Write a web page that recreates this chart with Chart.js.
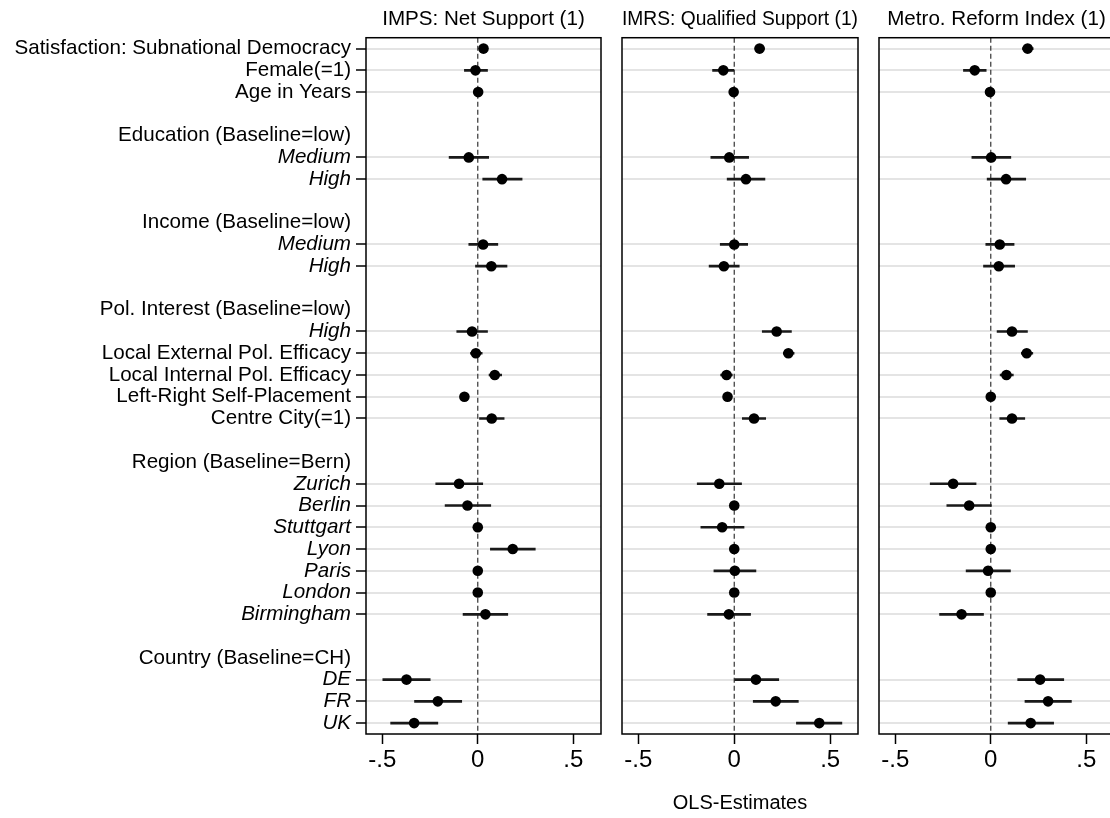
<!DOCTYPE html>
<html>
<head>
<meta charset="utf-8">
<title>OLS coefficient plot</title>
<script src="https://cdn.jsdelivr.net/npm/chart.js@4.4.1/dist/chart.umd.min.js"></script>
<style>
  html, body { margin: 0; padding: 0; background: #fff; overflow: hidden; }
  body { width: 1110px; height: 818px; position: relative; }
  canvas { position: absolute; top: 0; }
</style>
</head>
<body>
<canvas id="imps" width="610" height="818" style="left:0px"></canvas>
<canvas id="imrs" width="260" height="818" style="left:610px"></canvas>
<canvas id="metro" width="260" height="818" style="left:866px"></canvas>
<script>
// rows of the coefficient table, top to bottom ('' = spacer row)
const rowLabels = [
  'Satisfaction: Subnational Democracy', 'Female(=1)', 'Age in Years', '',
  'Education (Baseline=low)', 'Medium', 'High', '',
  'Income (Baseline=low)', 'Medium', 'High', '',
  'Pol. Interest (Baseline=low)', 'High', 'Local External Pol. Efficacy',
  'Local Internal Pol. Efficacy', 'Left-Right Self-Placement', 'Centre City(=1)', '',
  'Region (Baseline=Bern)', 'Zurich', 'Berlin', 'Stuttgart', 'Lyon', 'Paris', 'London', 'Birmingham', '',
  'Country (Baseline=CH)', 'DE', 'FR', 'UK'
];
// rows that are levels of a factor (printed in italics)
const factorLevels = [5, 6, 9, 10, 13, 20, 21, 22, 23, 24, 25, 26, 29, 30, 31];

const xTicks = [-0.5, 0, 0.5];
const xTickLabels = ['-.5', '0', '.5'];
const xMin = -0.585;
const xMax = 0.645;
const refLine = 0;

const panelTitles = ['IMPS: Net Support (1)', 'IMRS: Qualified Support (1)', 'Metro. Reform Index (1)'];
const axisTitle = 'OLS-Estimates';

const _ = null;
// IMPS: Net Support
const impsEst = [0.030, -0.012, 0.002, _, _, -0.047, 0.127, _, _, 0.028, 0.071, _, _, -0.030, -0.010, 0.089, -0.070, 0.073, _, _, -0.098, -0.054, 0, 0.183, 0, 0, 0.040, _, _, -0.373, -0.209, -0.333];
const impsLo  = [0.008, -0.070, -0.002, _, _, -0.150, 0.026, _, _, -0.047, -0.012, _, _, -0.110, -0.038, 0.059, -0.082, 0.009, _, _, -0.220, -0.171, 0, 0.066, 0, 0, -0.077, _, _, -0.497, -0.331, -0.456];
const impsHi  = [0.052, 0.051, 0.006, _, _, 0.057, 0.232, _, _, 0.105, 0.153, _, _, 0.051, 0.023, 0.125, -0.058, 0.138, _, _, 0.026, 0.068, 0, 0.301, 0, 0, 0.157, _, _, -0.249, -0.084, -0.209];
// IMRS: Qualified Support
const imrsEst = [0.132, -0.057, -0.003, _, _, -0.026, 0.061, _, _, 0.000, -0.054, _, _, 0.221, 0.282, -0.040, -0.035, 0.103, _, _, -0.078, 0, -0.063, 0, 0.003, 0, -0.028, _, _, 0.113, 0.216, 0.443];
const imrsLo  = [0.108, -0.113, -0.007, _, _, -0.122, -0.037, _, _, -0.073, -0.131, _, _, 0.146, 0.256, -0.071, -0.045, 0.042, _, _, -0.193, 0, -0.174, 0, -0.106, 0, -0.139, _, _, 0.000, 0.099, 0.324];
const imrsHi  = [0.157, -0.002, 0.001, _, _, 0.075, 0.160, _, _, 0.070, 0.026, _, _, 0.298, 0.312, -0.010, -0.025, 0.164, _, _, 0.038, 0, 0.051, 0, 0.113, 0, 0.085, _, _, 0.232, 0.334, 0.561];
// Metro. Reform Index
const metroEst = [0.193, -0.084, -0.004, _, _, 0.002, 0.080, _, _, 0.047, 0.042, _, _, 0.111, 0.188, 0.082, 0.000, 0.111, _, _, -0.197, -0.113, 0, 0, -0.014, 0, -0.153, _, _, 0.258, 0.300, 0.209];
const metroLo  = [0.166, -0.143, -0.008, _, _, -0.099, -0.019, _, _, -0.026, -0.038, _, _, 0.033, 0.160, 0.049, -0.005, 0.047, _, _, -0.317, -0.230, 0, 0, -0.129, 0, -0.268, _, _, 0.141, 0.179, 0.091];
const metroHi  = [0.222, -0.024, 0.000, _, _, 0.105, 0.183, _, _, 0.122, 0.125, _, _, 0.192, 0.220, 0.118, 0.005, 0.178, _, _, -0.077, 0.003, 0, 0, 0.103, 0, -0.038, _, _, 0.382, 0.422, 0.329];

const FONT = "'Liberation Sans', Arial, Helvetica, sans-serif";
const hasCoef = i => i != null && impsEst[i] != null;

// box round each panel
const frame = {
  id: 'frame',
  afterDraw(chart) {
    const a = chart.chartArea, ctx = chart.ctx;
    ctx.save();
    ctx.strokeStyle = '#000';
    ctx.lineWidth = 1.5;
    ctx.strokeRect(a.left, a.top, a.right - a.left, a.bottom - a.top);
    ctx.restore();
  }
};

function makePanel(id, n, est, lo, hi) {
  const rows = rowLabels.map((_, i) => i).filter(i => est[i] != null);
  const first = n === 0;
  const pad = [{ left: 0, right: 9 }, { left: 12, right: 12 }, { left: 13, right: 12 }][n];

  new Chart(document.getElementById(id), {
    type: 'scatter',
    data: {
      datasets: [
        {
          type: 'scatter',
          data: rows.map(i => ({ x: est[i], y: i })),
          backgroundColor: '#000',
          borderWidth: 0,
          pointRadius: 5.3,
          order: 0
        },
        {
          type: 'bar',
          indexAxis: 'y',
          data: rows.map(i => ({ y: i, x: [lo[i], hi[i]] })),
          backgroundColor: '#1a1a1a',
          borderWidth: 0,
          barThickness: 2,
          order: 1
        },
        {
          type: 'line',
          data: [{ x: refLine, y: -0.5 }, { x: refLine, y: 31.5 }],
          borderColor: '#333',
          borderWidth: 1.2,
          borderDash: [5, 3],
          pointRadius: 0,
          order: 2
        }
      ]
    },
    options: {
      responsive: false,
      animation: false,
      layout: { padding: { top: 0, bottom: 0, left: pad.left, right: pad.right } },
      plugins: {
        legend: { display: false },
        tooltip: { enabled: false },
        title: {
          display: true,
          text: panelTitles[n],
          fullSize: false,
          color: '#000',
          font: { family: FONT, size: 20.6, weight: 'normal' },
          padding: { top: 7, bottom: 6 }
        }
      },
      scales: {
        x: {
          type: 'linear',
          min: xMin,
          max: xMax,
          offset: false,
          afterBuildTicks: s => { s.ticks = xTicks.map(v => ({ value: v })); },
          afterFit: s => { s.height = 84; },
          grid: { offset: false, drawOnChartArea: false, drawTicks: true, tickLength: 10, tickColor: '#000', tickWidth: 1.5 },
          border: { display: false },
          ticks: {
            autoSkip: false,
            maxRotation: 0,
            padding: 2,
            color: '#000',
            font: { family: FONT, size: 24 },
            callback: v => xTickLabels[xTicks.indexOf(v)]
          },
          title: {
            display: n === 1,
            text: axisTitle,
            color: '#000',
            font: { family: FONT, size: 20 },
            padding: { top: 0, bottom: 3 }
          }
        },
        y: {
          type: 'linear',
          reverse: true,
          min: -0.5,
          max: 31.5,
          offset: false,
          afterBuildTicks: s => { s.ticks = rowLabels.map((_, i) => ({ value: i })); },
          afterFit: s => { s.width = first ? 366 : 0; },
          border: { display: false },
          grid: {
            offset: false,
            lineWidth: 2,
            color: c => hasCoef(c.tick && c.tick.value) ? '#e4e4e4' : 'rgba(0,0,0,0)',
            drawTicks: first,
            tickLength: 10,
            tickWidth: 1.5,
            tickColor: c => hasCoef(c.tick && c.tick.value) ? '#000' : 'rgba(0,0,0,0)'
          },
          ticks: {
            display: first,
            autoSkip: false,
            padding: 5,
            color: '#000',
            font: c => ({
              family: FONT,
              size: 20.6,
              style: factorLevels.includes(c.tick && c.tick.value) ? 'italic' : 'normal'
            }),
            callback: v => rowLabels[v]
          }
        }
      }
    },
    plugins: [frame]
  });
}

makePanel('imps', 0, impsEst, impsLo, impsHi);
makePanel('imrs', 1, imrsEst, imrsLo, imrsHi);
makePanel('metro', 2, metroEst, metroLo, metroHi);
</script>
</body>
</html>
